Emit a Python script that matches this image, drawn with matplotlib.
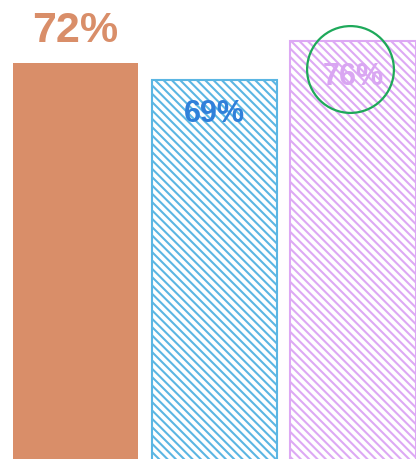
import matplotlib
matplotlib.use("Agg")
import matplotlib.pyplot as plt
import matplotlib.transforms as mtrans

categories = ["A", "B", "C"]
values = [72, 69, 76]
labels = ["72%", "69%", "76%"]

fill_colors = ["#D98E69", "none", "none"]
edge_colors = ["#D98E69", "#5BB6E3", "#DDA9F4"]
hatches = [None, "\\\\\\\\", "\\\\\\\\"]
text_colors = ["#D98E69", "#2F80DA", "#D9A6F2"]
text_sizes = [31, 22, 22]
text_offsets = [24, -24, -25]

plt.rcParams['font.family'] = ['Liberation Sans', 'DejaVu Sans']
plt.rcParams['hatch.linewidth'] = 1.5

fig = plt.figure(figsize=(4.16, 4.60), dpi=100)
ax = fig.add_axes([0, 0, 1, 1])

x = list(range(len(categories)))
for i in x:
    ax.bar(i, values[i], width=0.905, color=fill_colors[i],
           edgecolor=edge_colors[i], hatch=hatches[i],
           linewidth=1.5 if i else 0)
    ax.annotate(labels[i], xy=(i, values[i]), xytext=(0, text_offsets[i]),
                textcoords="offset points", ha="center", va="center",
                fontsize=text_sizes[i], fontweight="bold", color=text_colors[i])

# highlight circle around third label
circ, = ax.plot([x[2] - 0.02], [values[2]], linestyle="none", marker="o",
                ms=62.5, mfc="none", mec="#1EA95A", mew=1.6)
circ.set_transform(ax.transData + mtrans.ScaledTranslation(0, -20 / 72, fig.dpi_scale_trans))

ax.set_xlim(-0.545, 2.452)
ax.set_ylim(0.4, 83.6)
ax.axis("off")

fig.savefig("out.png", dpi=100)
